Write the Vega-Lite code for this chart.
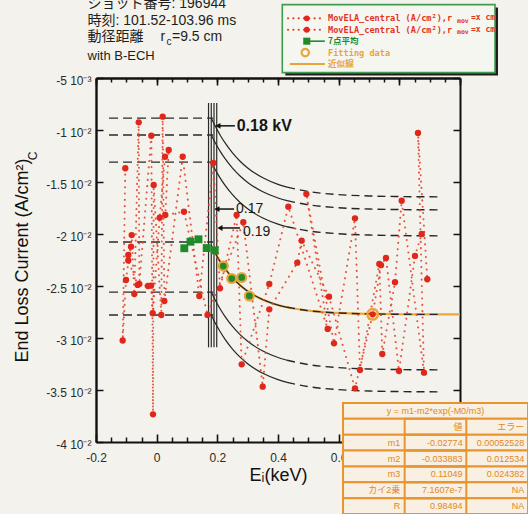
{
  "$schema": "https://vega.github.io/schema/vega-lite/v6.json",
  "width": 364,
  "height": 364,
  "autosize": "none",
  "padding": {"left": 96, "top": 78, "right": 68, "bottom": 72},
  "background": "#f3f2ec",
  "config": {"view": {"stroke": null}, "font": "Liberation Sans"},
  "datasets": {
    "ela": [
      {"s":"A","o":1,"E":-0.1034,"V":-0.01368},{"s":"A","o":2,"E":-0.112,"V":-0.03024},{"s":"A","o":3,"E":-0.1011,"V":-0.02442},
      {"s":"A","o":4,"E":-0.0823,"V":-0.0201},{"s":"A","o":5,"E":-0.0737,"V":-0.02577},{"s":"A","o":6,"E":-0.0592,"V":-0.00926},
      {"s":"A","o":7,"E":-0.0573,"V":-0.0248},{"s":"A","o":8,"E":-0.0177,"V":-0.01055},{"s":"A","o":9,"E":-0.0121,"V":-0.03734},
      {"s":"A","o":10,"E":-0.0098,"V":-0.01529},{"s":"A","o":11,"E":0.0153,"V":-0.02779},{"s":"A","o":12,"E":0.0199,"V":-0.00872},
      {"s":"A","o":13,"E":0.0252,"V":-0.02644},{"s":"A","o":14,"E":0.0858,"V":-0.01257},{"s":"A","o":15,"E":0.1405,"V":-0.02596},
      {"s":"A","o":16,"E":0.1867,"V":-0.01317},{"s":"A","o":17,"E":0.2088,"V":-0.02522},{"s":"A","o":18,"E":0.2636,"V":-0.01817},
      {"s":"A","o":19,"E":0.2803,"V":-0.03253},{"s":"A","o":20,"E":0.3713,"V":-0.02481},{"s":"A","o":21,"E":0.434,"V":-0.01737},
      {"s":"A","o":22,"E":0.5639,"V":-0.02913},{"s":"A","o":23,"E":0.4934,"V":-0.01615},{"s":"A","o":24,"E":0.5846,"V":-0.03051},
      {"s":"A","o":25,"E":0.6538,"V":-0.01849},{"s":"A","o":26,"E":0.6703,"V":-0.03308},{"s":"A","o":27,"E":0.734,"V":-0.02288},
      {"s":"A","o":28,"E":0.7438,"V":-0.03154},{"s":"A","o":29,"E":0.7857,"V":-0.02464},{"s":"A","o":30,"E":0.8078,"V":-0.0168},
      {"s":"A","o":31,"E":0.8813,"V":-0.03333},{"s":"A","o":32,"E":0.8615,"V":-0.01029},{"s":"A","o":33,"E":0.8922,"V":-0.02435},
      {"s":"B","o":1,"E":-0.0935,"V":-0.02202},{"s":"B","o":2,"E":-0.0846,"V":-0.02122},{"s":"B","o":3,"E":-0.0935,"V":-0.02255},
      {"s":"B","o":4,"E":-0.0625,"V":-0.0249},{"s":"B","o":5,"E":-0.0286,"V":-0.025},{"s":"B","o":6,"E":-0.0187,"V":-0.02497},
      {"s":"B","o":7,"E":-0.0131,"V":-0.02762},{"s":"B","o":8,"E":0.01,"V":-0.01843},{"s":"B","o":9,"E":0.0275,"V":-0.01257},
      {"s":"B","o":10,"E":0.0397,"V":-0.01192},{"s":"B","o":11,"E":0.0285,"V":-0.01817},{"s":"B","o":12,"E":0.0901,"V":-0.01786},
      {"s":"B","o":13,"E":0.1676,"V":-0.02779},{"s":"B","o":14,"E":0.2856,"V":-0.01887},{"s":"B","o":15,"E":0.3496,"V":-0.03468},
      {"s":"B","o":16,"E":0.3713,"V":-0.02724},{"s":"B","o":17,"E":0.4636,"V":-0.02276},{"s":"B","o":18,"E":0.4781,"V":-0.02064},
      {"s":"B","o":19,"E":0.5681,"V":-0.02603},{"s":"B","o":20,"E":0.6538,"V":-0.03484},{"s":"B","o":21,"E":0.7122,"V":-0.02772},
      {"s":"B","o":22,"E":0.7396,"V":-0.023},{"s":"B","o":23,"E":0.756,"V":-0.0223},{"s":"B","o":24,"E":0.7989,"V":-0.03317},
      {"s":"B","o":25,"E":0.8516,"V":-0.02211},{"s":"B","o":26,"E":0.8737,"V":-0.02}
    ],
    "avg7": [
      {"E":0.0911,"V":-0.02137},{"E":0.1115,"V":-0.02074},{"E":0.1379,"V":-0.02051},{"E":0.1649,"V":-0.02135},{"E":0.1913,"V":-0.02157}
    ],
    "fitPoints": [
      {"E":0.2197,"V":-0.02308},{"E":0.2474,"V":-0.02428},{"E":0.2803,"V":-0.02418},{"E":0.3054,"V":-0.02596}
    ],
    "fitCurve": [
      {"E":0.19,"V":-0.021671},{"E":0.2,"V":-0.022195},{"E":0.21,"V":-0.022675},{"E":0.225,"V":-0.023319},
      {"E":0.25,"V":-0.024214},{"E":0.275,"V":-0.024928},{"E":0.3,"V":-0.025498},{"E":0.35,"V":-0.026314},
      {"E":0.4,"V":-0.026833},{"E":0.5,"V":-0.027373},{"E":0.6,"V":-0.027592},{"E":0.7,"V":-0.02768},
      {"E":0.8,"V":-0.027716},{"E":0.9,"V":-0.02773},{"E":1.0,"V":-0.027736}
    ],
    "model": [
      {"c":"c1","part":"near","E":0.18,"V":-0.008846},{"c":"c1","part":"near","E":0.19,"V":-0.009454},{"c":"c1","part":"near","E":0.2,"V":-0.010012},
      {"c":"c1","part":"near","E":0.21,"V":-0.010526},{"c":"c1","part":"near","E":0.225,"V":-0.011221},{"c":"c1","part":"near","E":0.25,"V":-0.012203},
      {"c":"c1","part":"near","E":0.275,"V":-0.013},{"c":"c1","part":"near","E":0.3,"V":-0.013647},{"c":"c1","part":"near","E":0.35,"V":-0.0146},
      {"c":"c1","part":"near","E":0.4,"V":-0.015227},{"c":"c1","part":"near","E":0.43,"V":-0.015496},
      {"c":"c1","part":"far","E":0.43,"V":-0.015496},{"c":"c1","part":"far","E":0.5,"V":-0.015914},{"c":"c1","part":"far","E":0.6,"V":-0.016213},
      {"c":"c1","part":"far","E":0.7,"V":-0.016342},{"c":"c1","part":"far","E":0.8,"V":-0.016399},{"c":"c1","part":"far","E":0.927,"V":-0.016427},

      {"c":"c2","part":"near","E":0.18,"V":-0.010481},{"c":"c2","part":"near","E":0.19,"V":-0.011058},{"c":"c2","part":"near","E":0.2,"V":-0.011588},
      {"c":"c2","part":"near","E":0.21,"V":-0.012076},{"c":"c2","part":"near","E":0.225,"V":-0.012736},{"c":"c2","part":"near","E":0.25,"V":-0.013668},
      {"c":"c2","part":"near","E":0.275,"V":-0.014425},{"c":"c2","part":"near","E":0.3,"V":-0.015039},{"c":"c2","part":"near","E":0.35,"V":-0.015943},
      {"c":"c2","part":"near","E":0.4,"V":-0.016539},{"c":"c2","part":"near","E":0.43,"V":-0.016794},
      {"c":"c2","part":"far","E":0.43,"V":-0.016794},{"c":"c2","part":"far","E":0.5,"V":-0.017191},{"c":"c2","part":"far","E":0.6,"V":-0.017474},
      {"c":"c2","part":"far","E":0.7,"V":-0.017597},{"c":"c2","part":"far","E":0.8,"V":-0.017651},{"c":"c2","part":"far","E":0.927,"V":-0.017678},

      {"c":"c3","part":"near","E":0.18,"V":-0.013077},{"c":"c3","part":"near","E":0.19,"V":-0.013646},{"c":"c3","part":"near","E":0.2,"V":-0.014169},
      {"c":"c3","part":"near","E":0.21,"V":-0.014651},{"c":"c3","part":"near","E":0.225,"V":-0.015302},{"c":"c3","part":"near","E":0.25,"V":-0.016222},
      {"c":"c3","part":"near","E":0.275,"V":-0.016968},{"c":"c3","part":"near","E":0.3,"V":-0.017574},{"c":"c3","part":"near","E":0.35,"V":-0.018467},
      {"c":"c3","part":"near","E":0.4,"V":-0.019054},{"c":"c3","part":"near","E":0.43,"V":-0.019306},
      {"c":"c3","part":"far","E":0.43,"V":-0.019306},{"c":"c3","part":"far","E":0.5,"V":-0.019698},{"c":"c3","part":"far","E":0.6,"V":-0.019977},
      {"c":"c3","part":"far","E":0.7,"V":-0.020099},{"c":"c3","part":"far","E":0.8,"V":-0.020151},{"c":"c3","part":"far","E":0.927,"V":-0.020178},

      {"c":"c4","part":"near","E":0.18,"V":-0.021095},{"c":"c4","part":"near","E":0.19,"V":-0.021671},{"c":"c4","part":"near","E":0.2,"V":-0.022195},
      {"c":"c4","part":"near","E":0.21,"V":-0.022675},{"c":"c4","part":"near","E":0.225,"V":-0.023319},{"c":"c4","part":"near","E":0.25,"V":-0.024214},
      {"c":"c4","part":"near","E":0.275,"V":-0.024928},{"c":"c4","part":"near","E":0.3,"V":-0.025498},{"c":"c4","part":"near","E":0.35,"V":-0.026314},
      {"c":"c4","part":"near","E":0.4,"V":-0.026833},{"c":"c4","part":"near","E":0.43,"V":-0.027048},
      {"c":"c4","part":"far","E":0.43,"V":-0.027048},{"c":"c4","part":"far","E":0.5,"V":-0.027373},{"c":"c4","part":"far","E":0.6,"V":-0.027592},
      {"c":"c4","part":"far","E":0.7,"V":-0.02768},{"c":"c4","part":"far","E":0.8,"V":-0.027716},{"c":"c4","part":"far","E":0.927,"V":-0.027732},

      {"c":"c5","part":"near","E":0.18,"V":-0.025577},{"c":"c5","part":"near","E":0.19,"V":-0.026177},{"c":"c5","part":"near","E":0.2,"V":-0.026728},
      {"c":"c5","part":"near","E":0.21,"V":-0.027236},{"c":"c5","part":"near","E":0.225,"V":-0.027922},{"c":"c5","part":"near","E":0.25,"V":-0.028892},
      {"c":"c5","part":"near","E":0.275,"V":-0.029679},{"c":"c5","part":"near","E":0.3,"V":-0.030318},{"c":"c5","part":"near","E":0.35,"V":-0.031258},
      {"c":"c5","part":"near","E":0.4,"V":-0.031878},{"c":"c5","part":"near","E":0.43,"V":-0.032143},
      {"c":"c5","part":"far","E":0.43,"V":-0.032143},{"c":"c5","part":"far","E":0.5,"V":-0.032556},{"c":"c5","part":"far","E":0.6,"V":-0.03285},
      {"c":"c5","part":"far","E":0.7,"V":-0.032979},{"c":"c5","part":"far","E":0.8,"V":-0.033034},{"c":"c5","part":"far","E":0.927,"V":-0.033062},

      {"c":"c6","part":"near","E":0.18,"V":-0.027788},{"c":"c6","part":"near","E":0.19,"V":-0.02838},{"c":"c6","part":"near","E":0.2,"V":-0.028924},
      {"c":"c6","part":"near","E":0.21,"V":-0.029426},{"c":"c6","part":"near","E":0.225,"V":-0.030103},{"c":"c6","part":"near","E":0.25,"V":-0.031061},
      {"c":"c6","part":"near","E":0.275,"V":-0.031837},{"c":"c6","part":"near","E":0.3,"V":-0.032468},{"c":"c6","part":"near","E":0.35,"V":-0.033397},
      {"c":"c6","part":"near","E":0.4,"V":-0.034008},{"c":"c6","part":"near","E":0.43,"V":-0.03427},
      {"c":"c6","part":"far","E":0.43,"V":-0.03427},{"c":"c6","part":"far","E":0.5,"V":-0.034677},{"c":"c6","part":"far","E":0.6,"V":-0.034968},
      {"c":"c6","part":"far","E":0.7,"V":-0.035095},{"c":"c6","part":"far","E":0.8,"V":-0.03515},{"c":"c6","part":"far","E":0.927,"V":-0.035177}
    ],
    "fitTable": [
      {"row":"formula","val":"y = m1-m2*exp(-M0/m3)","err":""},
      {"row":"header","val":"値","err":"エラー"},
      {"row":"m1","val":"-0.02774","err":"0.00052528"},
      {"row":"m2","val":"-0.033883","err":"0.012534"},
      {"row":"m3","val":"0.11049","err":"0.024382"},
      {"row":"カイ2乗","val":"7.1607e-7","err":"NA"},
      {"row":"R","val":"0.98494","err":"NA"}
    ],
    "legendRows": [
      {"k":1,"s":"ela","label":"MovELA_central (A/cm²),r"},
      {"k":2,"s":"ela","label":"MovELA_central (A/cm²),r"},
      {"k":3,"s":"avg","label":"7点平均"},
      {"k":4,"s":"fitpt","label":"Fitting data"},
      {"k":5,"s":"fitline","label":"近似線"}
    ]
  },
  "layer": [
    {
      "layer": [
        {
          "data": {"values": [{"E":0.171},{"E":0.18},{"E":0.189},{"E":0.198}]},
          "mark": {"type": "rule", "color": "#2a2a2a", "strokeWidth": 1.2},
          "encoding": {
            "x": {"field": "E", "type": "quantitative", "axis": null},
            "y": {"datum": -0.0074, "type": "quantitative", "axis": null},
            "y2": {"datum": -0.0309}
          }
        },
        {
          "data": {"values": [{"V":-0.00885},{"V":-0.01048},{"V":-0.01308},{"V":-0.02077},{"V":-0.02558},{"V":-0.02779}]},
          "mark": {"type": "rule", "color": "#2a2a2a", "strokeWidth": 1.3, "strokeDash": [9, 5]},
          "encoding": {
            "x": {"datum": -0.157, "type": "quantitative", "axis": null},
            "x2": {"datum": 0.186},
            "y": {"field": "V", "type": "quantitative", "axis": null}
          }
        },
        {
          "data": {"name": "fitCurve"},
          "mark": {"type": "line", "color": "#eda938", "strokeWidth": 2.2, "interpolate": "monotone"},
          "encoding": {
            "x": {"field": "E", "type": "quantitative", "axis": null},
            "y": {"field": "V", "type": "quantitative", "axis": null}
          }
        },
        {
          "data": {"name": "model"},
          "transform": [{"filter": "datum.part === 'near'"}],
          "mark": {"type": "line", "color": "#262626", "strokeWidth": 1.2, "interpolate": "monotone"},
          "encoding": {
            "x": {"field": "E", "type": "quantitative", "axis": null},
            "y": {"field": "V", "type": "quantitative", "axis": null},
            "detail": {"field": "c"}
          }
        },
        {
          "data": {"name": "model"},
          "transform": [{"filter": "datum.part === 'far'"}],
          "mark": {"type": "line", "color": "#262626", "strokeWidth": 1.4, "strokeDash": [8, 5], "interpolate": "monotone"},
          "encoding": {
            "x": {"field": "E", "type": "quantitative", "axis": null},
            "y": {"field": "V", "type": "quantitative", "axis": null},
            "detail": {"field": "c"}
          }
        },
        {
          "data": {"name": "ela"},
          "mark": {"type": "line", "color": "#e4442c", "strokeWidth": 2, "strokeDash": [0.1, 6.2], "strokeCap": "round", "opacity": 0.9},
          "encoding": {
            "x": {"field": "E", "type": "quantitative", "axis": null},
            "y": {"field": "V", "type": "quantitative", "axis": null},
            "detail": {"field": "s"},
            "order": {"field": "o", "type": "quantitative"}
          }
        },
        {
          "data": {"values": [{"E":0.7122,"V":-0.02772}]},
          "mark": {"type": "point", "shape": "circle", "filled": false, "size": 110, "color": "#e9a43a", "strokeWidth": 2.5, "opacity": 1},
          "encoding": {
            "x": {"field": "E", "type": "quantitative", "axis": null},
            "y": {"field": "V", "type": "quantitative", "axis": null}
          }
        },
        {
          "data": {"name": "ela"},
          "mark": {"type": "point", "shape": "circle", "filled": true, "size": 40, "color": "#e0271b", "opacity": 1},
          "encoding": {
            "x": {
              "field": "E", "type": "quantitative",
              "scale": {"domain": [-0.2, 1.0], "nice": false, "zero": false},
              "axis": {
                "orient": "bottom",
                "values": [-0.2, 0, 0.2, 0.4, 0.6, 0.8, 1],
                "labelExpr": "indexof(['-0.2','0','0.2','0.4','0.6'], '' + datum.value) >= 0 ? '' + datum.value : ''",
                "grid": false,
                "tickSize": -8, "tickWidth": 1.6, "tickColor": "#111",
                "domainColor": "#111", "domainWidth": 2,
                "labelFont": "Liberation Sans", "labelFontSize": 12, "labelColor": "#2a2a2a",
                "labelPadding": 18, "labelFlush": false, "labelOverlap": false, "labelBound": false,
                "title": "Eᵢ(keV)", "titleFont": "Liberation Sans", "titleFontSize": 18,
                "titleFontWeight": "normal", "titleColor": "#111", "titlePadding": 3
              }
            },
            "y": {
              "field": "V", "type": "quantitative",
              "scale": {"domain": [-0.04, -0.005], "nice": false, "zero": false},
              "axis": {
                "orient": "left",
                "values": [-0.04,-0.035,-0.03,-0.025,-0.02,-0.015,-0.01,-0.005],
                "labelExpr": "datum.value == -0.005 ? '-5 10⁻³' : (round(datum.value * 1000) / 10) + ' 10⁻²'",
                "grid": false,
                "tickSize": -7, "tickWidth": 1.5, "tickColor": "#111",
                "domainColor": "#111", "domainWidth": 2.4,
                "labelFont": "Liberation Sans", "labelFontSize": 12, "labelColor": "#2a2a2a",
                "labelPadding": 12, "labelOffset": 2, "labelOverlap": false, "labelBound": false, "labelFlush": false,
                "title": "End Loss Current (A/cm²)", "titleFont": "Liberation Sans", "titleFontSize": 18,
                "titleFontWeight": "normal", "titleColor": "#111", "titlePadding": 14
              }
            }
          }
        },
        {
          "data": {"name": "avg7"},
          "mark": {"type": "point", "shape": "square", "filled": true, "size": 62, "color": "#1f8c29", "opacity": 1},
          "encoding": {
            "x": {
              "field": "E", "type": "quantitative",
              "axis": {
                "orient": "top",
                "values": [-0.2,-0.15,-0.1,-0.05,0,0.05,0.1,0.15,0.2,0.25,0.3,0.35,0.4,0.45,0.5,0.55,0.6,0.65,0.7,0.75,0.8,0.85,0.9,0.95,1],
                "labels": false, "grid": false, "title": null,
                "tickSize": -4, "tickWidth": 1.5, "tickColor": "#111",
                "domainColor": "#111", "domainWidth": 2.6
              }
            },
            "y": {
              "field": "V", "type": "quantitative",
              "axis": {
                "orient": "right",
                "values": [-0.04,-0.035,-0.03,-0.025,-0.02,-0.015,-0.01,-0.005],
                "labels": false, "grid": false, "title": null,
                "tickSize": -7, "tickWidth": 1.5, "tickColor": "#111",
                "domainColor": "#111", "domainWidth": 2
              }
            }
          }
        },
        {
          "data": {"name": "fitPoints"},
          "mark": {"type": "point", "shape": "circle", "filled": true, "size": 80, "fill": "#238a2a", "stroke": "#e8a53a", "strokeWidth": 2.2, "opacity": 1},
          "encoding": {
            "x": {
              "field": "E", "type": "quantitative",
              "axis": {
                "orient": "bottom",
                "values": [-0.15,-0.1,-0.05,0.05,0.1,0.15,0.25,0.3,0.35,0.45,0.5,0.55,0.65,0.7,0.75,0.85,0.9,0.95],
                "labels": false, "grid": false, "title": null, "domain": false,
                "tickSize": -5, "tickWidth": 1.5, "tickColor": "#111"
              }
            },
            "y": {"field": "V", "type": "quantitative", "axis": null}
          }
        },
        {
          "data": {"values": [
            {"tail":0.258,"head":0.2022,"V":-0.0096},
            {"tail":0.255,"head":0.1989,"V":-0.0176},
            {"tail":0.2747,"head":0.2088,"V":-0.01942}
          ]},
          "mark": {"type": "rule", "color": "#111", "strokeWidth": 1.5},
          "encoding": {
            "x": {"field": "tail", "type": "quantitative", "axis": null},
            "x2": {"field": "head"},
            "y": {"field": "V", "type": "quantitative", "axis": null}
          }
        },
        {
          "data": {"values": [
            {"head":0.2022,"V":-0.0096},
            {"head":0.1989,"V":-0.0176},
            {"head":0.2088,"V":-0.01942}
          ]},
          "mark": {"type": "point", "shape": "triangle-left", "filled": true, "size": 34, "color": "#111", "opacity": 1},
          "encoding": {
            "x": {"field": "head", "type": "quantitative", "axis": null},
            "y": {"field": "V", "type": "quantitative", "axis": null}
          }
        },
        {
          "data": {"values": [{"E":0.2638,"V":-0.0096,"t":"0.18 kV"}]},
          "mark": {"type": "text", "align": "left", "baseline": "middle", "fontSize": 16, "fontWeight": "bold", "color": "#151515"},
          "encoding": {
            "x": {"field": "E", "type": "quantitative", "axis": null},
            "y": {"field": "V", "type": "quantitative", "axis": null},
            "text": {"field": "t"}
          }
        },
        {
          "data": {"values": [{"E":0.2615,"V":-0.0176,"t":"0.17"},{"E":0.2846,"V":-0.0198,"t":"0.19"}]},
          "mark": {"type": "text", "align": "left", "baseline": "middle", "fontSize": 14, "color": "#1a1a1a"},
          "encoding": {
            "x": {"field": "E", "type": "quantitative", "axis": null},
            "y": {"field": "V", "type": "quantitative", "axis": null},
            "text": {"field": "t"}
          }
        },
        {
          "data": {"values": [
            {"t":"ショット番号: 196944","E":-0.228,"V":0.0021},
            {"t":"時刻: 101.52-103.96 ms","E":-0.228,"V":0.00048},
            {"t":"動径距離","E":-0.228,"V":-0.0011},
            {"t":"r","E":0.0126,"V":-0.0011},
            {"t":"=9.5 cm","E":0.0506,"V":-0.0011}
          ]},
          "mark": {"type": "text", "align": "left", "baseline": "middle", "font": "Liberation Sans, Noto Sans CJK JP", "fontSize": 14, "color": "#1e1e1e"},
          "encoding": {
            "x": {"field": "E", "type": "quantitative", "axis": null},
            "y": {"field": "V", "type": "quantitative", "axis": null},
            "text": {"field": "t"}
          }
        },
        {
          "data": {"values": [{"t":"c","E":0.0324,"V":-0.00158}]},
          "mark": {"type": "text", "align": "left", "baseline": "middle", "fontSize": 10, "color": "#1e1e1e"},
          "encoding": {
            "x": {"field": "E", "type": "quantitative", "axis": null},
            "y": {"field": "V", "type": "quantitative", "axis": null},
            "text": {"field": "t"}
          }
        },
        {
          "data": {"values": [{"t":"with B-ECH","E":-0.228,"V":-0.0029}]},
          "mark": {"type": "text", "align": "left", "baseline": "middle", "fontSize": 13, "color": "#1e1e1e"},
          "encoding": {
            "x": {
              "field": "E", "type": "quantitative",
              "axis": {
                "orient": "top",
                "values": [-0.2, 0, 0.2, 0.4, 0.6, 0.8, 1],
                "labels": false, "grid": false, "title": null, "domain": false,
                "tickSize": -7, "tickWidth": 1.6, "tickColor": "#111"
              }
            },
            "y": {"field": "V", "type": "quantitative", "axis": null},
            "text": {"field": "t"}
          }
        },
        {
          "data": {"values": [{"t":"C","E":-0.4077,"V":-0.0125}]},
          "mark": {"type": "text", "align": "center", "baseline": "middle", "angle": 270, "fontSize": 12, "color": "#111"},
          "encoding": {
            "x": {"field": "E", "type": "quantitative", "axis": null},
            "y": {"field": "V", "type": "quantitative", "axis": null},
            "text": {"field": "t"}
          }
        }
      ],
      "resolve": {"axis": {"x": "independent", "y": "independent"}}
    },
    {
      "data": {"name": "fitTable"},
      "layer": [
        {
          "mark": {"type": "rect", "fill": "#f7f0e3", "stroke": "#ea9430", "strokeWidth": 2},
          "encoding": {
            "x": {"datum": 0, "type": "quantitative", "scale": {"domain": [0, 3], "range": [247, 432], "nice": false, "zero": false}, "axis": null},
            "x2": {"datum": 3},
            "y": {"field": "row", "type": "nominal", "scale": {"type": "band", "domain": ["formula","header","m1","m2","m3","カイ2乗","R"], "range": [325, 436], "paddingInner": 0, "paddingOuter": 0}, "axis": null}
          }
        },
        {
          "transform": [{"filter": "datum.row !== 'formula'"}],
          "mark": {"type": "rect", "filled": false, "stroke": "#ea9430", "strokeWidth": 2},
          "encoding": {
            "x": {"datum": 1, "type": "quantitative", "axis": null},
            "x2": {"datum": 2},
            "y": {"field": "row", "type": "nominal", "axis": null}
          }
        },
        {
          "transform": [{"filter": "indexof(['formula','header'], datum.row) < 0"}],
          "mark": {"type": "text", "align": "right", "baseline": "middle", "font": "Liberation Sans, Noto Sans CJK JP", "fontSize": 9, "color": "#e6861c"},
          "encoding": {
            "x": {"datum": 0.93, "type": "quantitative", "axis": null},
            "y": {"field": "row", "type": "nominal", "axis": null},
            "text": {"field": "row"}
          }
        },
        {
          "transform": [{"filter": "datum.row !== 'formula'"}],
          "mark": {"type": "text", "align": "right", "baseline": "middle", "font": "Liberation Sans, Noto Sans CJK JP", "fontSize": 9, "color": "#e6861c"},
          "encoding": {
            "x": {"datum": 1.94, "type": "quantitative", "axis": null},
            "y": {"field": "row", "type": "nominal", "axis": null},
            "text": {"field": "val"}
          }
        },
        {
          "transform": [{"filter": "datum.row !== 'formula'"}],
          "mark": {"type": "text", "align": "right", "baseline": "middle", "font": "Liberation Sans, Noto Sans CJK JP", "fontSize": 9, "color": "#e6861c"},
          "encoding": {
            "x": {"datum": 2.94, "type": "quantitative", "axis": null},
            "y": {"field": "row", "type": "nominal", "axis": null},
            "text": {"field": "err"}
          }
        },
        {
          "transform": [{"filter": "datum.row === 'formula'"}],
          "mark": {"type": "text", "align": "center", "baseline": "middle", "fontSize": 9, "color": "#e6861c"},
          "encoding": {
            "x": {"datum": 1.5, "type": "quantitative", "axis": null},
            "y": {"field": "row", "type": "nominal", "axis": null},
            "text": {"field": "val"}
          }
        }
      ]
    },
    {
      "data": {"name": "legendRows"},
      "layer": [
        {
          "data": {"values": [{}]},
          "mark": {"type": "rect", "fill": "#1e1e1e", "xOffset": 3, "x2Offset": 3, "yOffset": 3, "y2Offset": 3},
          "encoding": {
            "x": {"datum": 0, "type": "quantitative", "scale": {"domain": [0, 1], "range": [186.3, 399], "nice": false, "zero": false}, "axis": null},
            "x2": {"datum": 1},
            "y": {"datum": -0.2, "type": "quantitative", "scale": {"domain": [0, 6], "range": [-71.13, -2.53], "nice": false, "zero": false}, "axis": null},
            "y2": {"datum": 5.75}
          }
        },
        {
          "data": {"values": [{}]},
          "mark": {"type": "rect", "fill": "#f6f6f1", "stroke": "#3f9c4f", "strokeWidth": 1.6},
          "encoding": {
            "x": {"datum": 0, "type": "quantitative", "axis": null},
            "x2": {"datum": 1},
            "y": {"datum": -0.2, "type": "quantitative", "axis": null},
            "y2": {"datum": 5.75}
          }
        },
        {
          "transform": [{"filter": "datum.s === 'ela'"}],
          "mark": {"type": "rule", "color": "#e4442c", "strokeWidth": 2.2, "strokeDash": [0.1, 5.2], "strokeCap": "round"},
          "encoding": {
            "x": {"datum": 0.027, "type": "quantitative", "axis": null},
            "x2": {"datum": 0.2},
            "y": {"field": "k", "type": "quantitative", "axis": null}
          }
        },
        {
          "transform": [{"filter": "datum.s === 'ela'"}],
          "mark": {"type": "point", "shape": "circle", "filled": true, "size": 34, "color": "#e0271b", "opacity": 1},
          "encoding": {
            "x": {"datum": 0.115, "type": "quantitative", "axis": null},
            "y": {"field": "k", "type": "quantitative", "axis": null}
          }
        },
        {
          "transform": [{"filter": "datum.s === 'avg'"}],
          "mark": {"type": "rule", "color": "#1f8c29", "strokeWidth": 1.6},
          "encoding": {
            "x": {"datum": 0.115, "type": "quantitative", "axis": null},
            "x2": {"datum": 0.2},
            "y": {"field": "k", "type": "quantitative", "axis": null}
          }
        },
        {
          "transform": [{"filter": "datum.s === 'avg'"}],
          "mark": {"type": "point", "shape": "square", "filled": true, "size": 50, "color": "#1f8c29", "opacity": 1},
          "encoding": {
            "x": {"datum": 0.115, "type": "quantitative", "axis": null},
            "y": {"field": "k", "type": "quantitative", "axis": null}
          }
        },
        {
          "transform": [{"filter": "datum.s === 'fitpt'"}],
          "mark": {"type": "point", "shape": "circle", "filled": false, "size": 55, "color": "#e9a43a", "strokeWidth": 2.2, "opacity": 1},
          "encoding": {
            "x": {"datum": 0.108, "type": "quantitative", "axis": null},
            "y": {"field": "k", "type": "quantitative", "axis": null}
          }
        },
        {
          "transform": [{"filter": "datum.s === 'fitline'"}],
          "mark": {"type": "rule", "color": "#e9a43a", "strokeWidth": 2},
          "encoding": {
            "x": {"datum": 0.035, "type": "quantitative", "axis": null},
            "x2": {"datum": 0.2},
            "y": {"field": "k", "type": "quantitative", "axis": null}
          }
        },
        {
          "transform": [{"filter": "datum.s === 'ela'"}],
          "mark": {"type": "text", "align": "left", "baseline": "middle", "font": "DejaVu Sans Mono", "fontSize": 8.6, "fontWeight": "bold", "color": "#e0341f"},
          "encoding": {
            "x": {"datum": 0.2149, "type": "quantitative", "axis": null},
            "y": {"field": "k", "type": "quantitative", "axis": null},
            "text": {"field": "label"}
          }
        },
        {
          "transform": [{"filter": "datum.s === 'ela'"}],
          "mark": {"type": "text", "align": "left", "baseline": "middle", "dy": 2.5, "font": "DejaVu Sans Mono", "fontSize": 6.5, "fontWeight": "bold", "color": "#e0341f"},
          "encoding": {
            "x": {"datum": 0.8213, "type": "quantitative", "axis": null},
            "y": {"field": "k", "type": "quantitative", "axis": null},
            "text": {"value": "mov"}
          }
        },
        {
          "transform": [{"filter": "datum.s === 'ela'"}],
          "mark": {"type": "text", "align": "left", "baseline": "middle", "font": "DejaVu Sans Mono", "fontSize": 8, "fontWeight": "bold", "color": "#e0341f"},
          "encoding": {
            "x": {"datum": 0.8871, "type": "quantitative", "axis": null},
            "y": {"field": "k", "type": "quantitative", "axis": null},
            "text": {"value": "=x cm"}
          }
        },
        {
          "transform": [{"filter": "datum.s === 'avg'"}],
          "mark": {"type": "text", "align": "left", "baseline": "middle", "font": "Noto Sans CJK JP", "fontSize": 8.5, "fontWeight": "bold", "color": "#1f8c29"},
          "encoding": {
            "x": {"datum": 0.2149, "type": "quantitative", "axis": null},
            "y": {"field": "k", "type": "quantitative", "axis": null},
            "text": {"field": "label"}
          }
        },
        {
          "transform": [{"filter": "datum.s === 'fitpt' || datum.s === 'fitline'"}],
          "mark": {"type": "text", "align": "left", "baseline": "middle", "font": "DejaVu Sans Mono, Noto Sans CJK JP", "fontSize": 8.6, "fontWeight": "bold", "color": "#e9a43a"},
          "encoding": {
            "x": {"datum": 0.2149, "type": "quantitative", "axis": null},
            "y": {"field": "k", "type": "quantitative", "axis": null},
            "text": {"field": "label"}
          }
        }
      ]
    }
  ],
  "resolve": {"scale": {"x": "independent", "y": "independent"}}
}
